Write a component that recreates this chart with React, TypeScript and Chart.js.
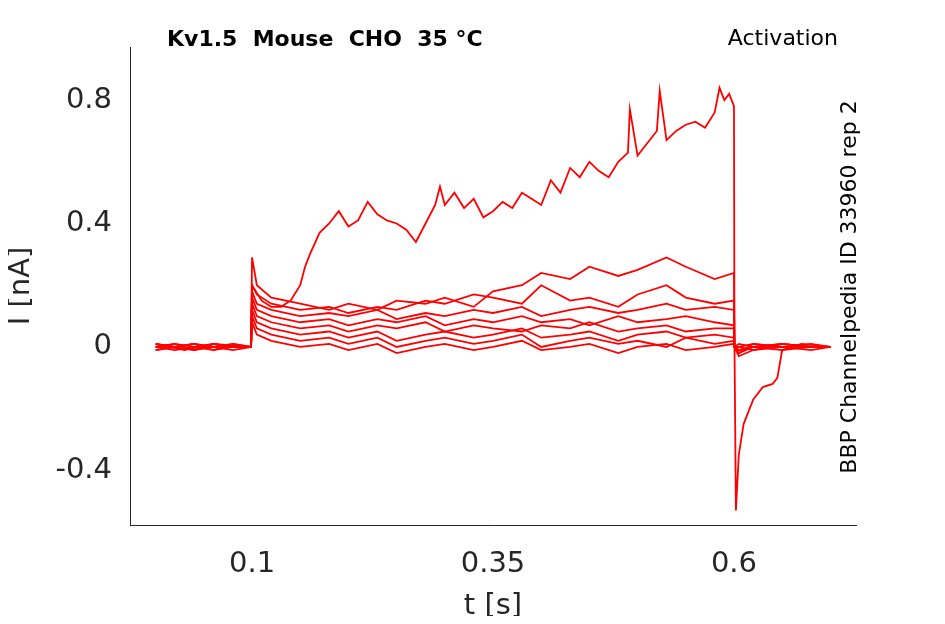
import { useEffect, useRef } from "react";
import { Chart, registerables } from "chart.js";

Chart.register(...registerables);

// top trace (largest step)
const topTimes = [0, 0.03, 0.06, 0.099, 0.1, 0.11, 0.12, 0.13, 0.14, 0.15, 0.155, 0.16, 0.17, 0.18, 0.19, 0.2, 0.21, 0.22, 0.23, 0.24, 0.25, 0.26, 0.27, 0.28, 0.29, 0.295, 0.3, 0.31, 0.32, 0.33, 0.34, 0.35, 0.36, 0.37, 0.38, 0.39, 0.4, 0.41, 0.42, 0.43, 0.44, 0.45, 0.46, 0.47, 0.48, 0.49, 0.492, 0.5, 0.51, 0.52, 0.523, 0.53, 0.54, 0.55, 0.56, 0.57, 0.58, 0.585, 0.59, 0.595, 0.6, 0.6005, 0.602, 0.605, 0.61, 0.62, 0.63, 0.64, 0.645, 0.65, 0.67, 0.7];
const topValues = [0.01, -0.01, 0.01, 0.0, 0.2, 0.15, 0.13, 0.13, 0.15, 0.2, 0.26, 0.3, 0.37, 0.4, 0.44, 0.39, 0.41, 0.47, 0.43, 0.41, 0.4, 0.38, 0.34, 0.4, 0.46, 0.52, 0.46, 0.5, 0.45, 0.48, 0.42, 0.44, 0.47, 0.45, 0.5, 0.48, 0.46, 0.54, 0.5, 0.58, 0.55, 0.6, 0.57, 0.55, 0.6, 0.63, 0.77, 0.62, 0.66, 0.7, 0.83, 0.67, 0.7, 0.72, 0.73, 0.71, 0.76, 0.84, 0.8, 0.82, 0.78, 0.02, -0.53, -0.35, -0.25, -0.17, -0.13, -0.12, -0.1, -0.01, 0.01, 0.0];

// shared grid for the smaller traces
const lowTimes = [0, 0.02, 0.04, 0.06, 0.08, 0.099, 0.1, 0.105, 0.12, 0.15, 0.18, 0.2, 0.23, 0.25, 0.28, 0.3, 0.33, 0.35, 0.38, 0.4, 0.43, 0.45, 0.48, 0.5, 0.53, 0.55, 0.58, 0.6, 0.6005, 0.605, 0.62, 0.65, 0.68, 0.7];
const trace2 = [0.0, 0.01, -0.01, 0.01, 0.0, 0.0, 0.29, 0.2, 0.16, 0.14, 0.12, 0.14, 0.12, 0.15, 0.14, 0.16, 0.13, 0.18, 0.2, 0.24, 0.22, 0.26, 0.23, 0.25, 0.29, 0.26, 0.22, 0.24, 0.0, -0.03, -0.01, 0.01, 0.0, 0.0];
const trace3 = [0.01, 0.0, 0.01, -0.01, 0.0, 0.0, 0.2, 0.17, 0.14, 0.12, 0.13, 0.11, 0.13, 0.12, 0.15, 0.14, 0.17, 0.16, 0.14, 0.2, 0.15, 0.16, 0.13, 0.17, 0.2, 0.16, 0.14, 0.15, 0.0, -0.02, 0.0, 0.01, 0.0, 0.0];
const trace4 = [-0.01, 0.0, 0.01, 0.0, 0.01, 0.0, 0.18, 0.14, 0.12, 0.1, 0.11, 0.1, 0.12, 0.09, 0.11, 0.1, 0.12, 0.11, 0.13, 0.1, 0.12, 0.13, 0.11, 0.12, 0.14, 0.12, 0.13, 0.12, 0.0, -0.02, 0.01, 0.0, 0.0, 0.0];
const trace5 = [0.0, -0.01, 0.0, 0.01, 0.0, 0.0, 0.16, 0.12, 0.1, 0.08, 0.09, 0.07, 0.09, 0.08, 0.1, 0.07, 0.09, 0.08, 0.1, 0.08, 0.09, 0.07, 0.1, 0.08, 0.09, 0.1, 0.08, 0.07, 0.0, -0.01, 0.0, 0.01, 0.0, 0.0];
const trace6 = [0.01, 0.0, -0.01, 0.0, 0.0, 0.0, 0.14, 0.1, 0.08, 0.06, 0.07, 0.05, 0.07, 0.06, 0.08, 0.05, 0.07, 0.06, 0.05, 0.07, 0.06, 0.08, 0.05, 0.06, 0.07, 0.05, 0.06, 0.06, 0.0, -0.01, 0.0, 0.0, 0.01, 0.0];
const trace7 = [0.0, 0.01, 0.0, -0.01, 0.01, 0.0, 0.12, 0.08, 0.06, 0.04, 0.05, 0.03, 0.05, 0.02, 0.04, 0.05, 0.03, 0.04, 0.06, 0.03, 0.04, 0.05, 0.02, 0.04, 0.05, 0.03, 0.04, 0.03, 0.0, 0.0, -0.01, 0.0, 0.0, 0.0];
const trace8 = [-0.01, 0.0, 0.01, 0.0, -0.01, 0.0, 0.1, 0.06, 0.04, 0.02, 0.03, 0.01, 0.03, 0.0, 0.02, 0.03, 0.01, 0.02, 0.04, 0.0, 0.02, 0.03, 0.01, 0.02, 0.0, 0.03, 0.01, 0.02, 0.0, 0.01, 0.0, -0.01, 0.0, 0.0];
const trace9 = [0.0, 0.0, -0.01, 0.01, 0.0, 0.0, 0.08, 0.04, 0.02, 0.0, 0.01, -0.01, 0.01, -0.02, 0.0, 0.01, -0.01, 0.0, 0.02, -0.01, 0.0, 0.01, -0.02, 0.0, 0.01, -0.01, 0.0, 0.01, 0.0, 0.0, 0.01, 0.0, -0.01, 0.0];
const lowTraces = [trace2, trace3, trace4, trace5, trace6, trace7, trace8, trace9];

const xTicks = [0.1, 0.35, 0.6];
const yTicks = [-0.4, 0, 0.4, 0.8];

const textPlugin = {
  id: "texts",
  afterDraw(chart: Chart) {
    const ctx = chart.ctx;
    ctx.save();
    ctx.fillStyle = "#000";
    ctx.font = "bold 22px 'DejaVu Sans'";
    ctx.textBaseline = "middle";
    ctx.fillText("Kv1.5  Mouse  CHO  35 °C", 167, 40);
    ctx.font = "22px 'DejaVu Sans'";
    ctx.textAlign = "right";
    ctx.fillText("Activation", 838, 39);
    ctx.translate(850, 287);
    ctx.rotate(-Math.PI / 2);
    ctx.textAlign = "center";
    ctx.fillText("BBP Channelpedia ID 33960 rep 2", 0, 0);
    ctx.restore();
  },
};

export default function App() {
  const canvasRef = useRef<HTMLCanvasElement | null>(null);

  useEffect(() => {
    if (!canvasRef.current) return;
    const mk = (ts: number[], vs: number[]) => ts.map((t, i) => ({ x: t, y: vs[i] }));
    const datasets = [
      ...lowTraces.map((v) => ({ data: mk(lowTimes, v) })),
      { data: mk(topTimes, topValues) },
    ].map((d) => ({ ...d, borderColor: "#ff0000", borderWidth: 1.8, pointRadius: 0, tension: 0 }));

    const chart = new Chart(canvasRef.current, {
      type: "line",
      data: { datasets },
      plugins: [textPlugin],
      options: {
        animation: false,
        responsive: false,
        layout: { padding: { top: 47, right: 89, bottom: 0, left: 0 } },
        plugins: { legend: { display: false }, tooltip: { enabled: false } },
        scales: {
          x: {
            type: "linear",
            min: -0.0266,
            max: 0.7266,
            afterBuildTicks: (axis: any) => {
              axis.ticks = xTicks.map((v) => ({ value: v }));
            },
            afterFit: (axis: any) => {
              axis.height = 99;
            },
            grid: { display: false, drawTicks: true, tickLength: 6, tickColor: "#262626" },
            border: { color: "#262626" },
            ticks: { color: "#262626", font: { size: 29, family: "DejaVu Sans" }, maxRotation: 0, padding: 16, callback: (v: any) => String(v) },
            title: { display: true, text: "t [s]", color: "#262626", font: { size: 29, family: "DejaVu Sans" }, padding: 0 },
          },
          y: {
            min: -0.577,
            max: 0.972,
            afterBuildTicks: (axis: any) => {
              axis.ticks = yTicks.map((v) => ({ value: v }));
            },
            afterFit: (axis: any) => {
              axis.width = 130;
            },
            grid: { display: false, drawTicks: true, tickLength: 6, tickColor: "#262626" },
            border: { color: "#262626" },
            ticks: { color: "#262626", font: { size: 29, family: "DejaVu Sans" }, padding: 12, callback: (v: any) => String(v) },
            title: { display: true, text: "I [nA]", color: "#262626", font: { size: 29, family: "DejaVu Sans" }, padding: 4 },
          },
        },
      },
    });
    return () => chart.destroy();
  }, []);

  return (
    <div style={{ width: 945, height: 624, background: "#fff", margin: -8 }}>
      <canvas ref={canvasRef} width={945} height={624} />
    </div>
  );
}
